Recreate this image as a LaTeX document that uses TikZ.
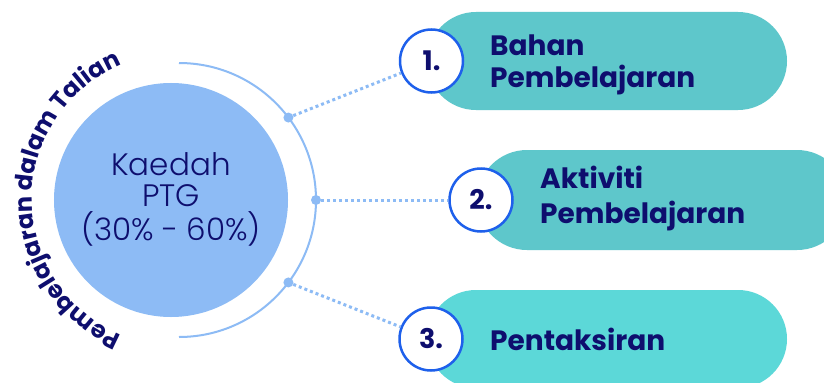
\documentclass[tikz,border=0pt]{standalone}
\usepackage{fontspec}
\setmainfont{Poppins}
\newfontfamily\lightfont{Poppins Light}
\usetikzlibrary{decorations.text,calc}
\definecolor{navy}{HTML}{0E0E6E}
\definecolor{lblue}{HTML}{8DBBF5}
\definecolor{teal1}{HTML}{5EC7CB}
\definecolor{teal3}{HTML}{5CD8D8}
\definecolor{ringblue}{HTML}{1E60EB}
\begin{document}
\begin{tikzpicture}[x=1bp,y=1bp,
 pill/.style={rounded corners=49bp, minimum height=98bp, inner sep=0},
 numc/.style={circle, draw=ringblue, line width=2.5bp, fill=white, minimum size=63bp, inner sep=0, text=navy, font=\fontsize{27bp}{27bp}\selectfont\bfseries},
 lbl/.style={anchor=base west, inner sep=0, text=navy, font=\fontsize{28bp}{32bp}\selectfont\bfseries},
 conn/.style={draw=lblue, line width=3bp, dash pattern=on 3bp off 3bp},
 dotn/.style={circle, fill=lblue, minimum size=10bp, inner sep=0},
 ktxt/.style={anchor=base, inner sep=0, text=navy, font=\lightfont\fontsize{31bp}{31bp}\selectfont}]
\clip (0,0) rectangle (824,382);
\fill[white] (0,0) rectangle (824,382);
% pills
\node[pill, fill=teal1, minimum width=360bp] (p1) at (607,321) {};
\node[pill, fill=teal1, minimum width=370bp, minimum height=100bp, rounded corners=50bp] (p2) at (662,182) {};
\node[pill, fill=teal3, minimum width=360bp] (p3) at (607,43) {};
% main circle and arc
\node[circle, fill=lblue, minimum size=234bp, inner sep=0] (main) at (171,182) {};
\coordinate (arcc) at (179,182);
\draw[lblue, line width=2bp] ([shift={(90:137)}]arcc) arc[start angle=90, end angle=-90, radius=137];
\node[dotn] (d1) at ([shift={(37:137)}]arcc) {};
\node[dotn] (d2) at ([shift={(0:137)}]arcc) {};
\node[dotn] (d3) at ([shift={(-37:137)}]arcc) {};
% number circles
\node[numc] (n1) at (431.5,321) {1.};
\node[numc] (n2) at (481,182) {2.};
\node[numc] (n3) at (431,43) {3.};
% connectors
\draw[conn] (d1) -- (n1);
\draw[conn] (d2) -- (n2);
\draw[conn] (d3) -- (n3);
% labels
\node[lbl] (t1a) at (490,327) {Bahan};
\node[lbl] (t1b) at (490,295) {Pembelajaran};
\node[lbl] (t2a) at (540,194) {Aktiviti};
\node[lbl] (t2b) at (540,159) {Pembelajaran};
\node[lbl] (t3) at (490,32) {Pentaksiran};
% centre text
\node[ktxt] (k1) at (171,207) {Kaedah};
\node[ktxt] (k2) at (171,176) {PTG};
\node[ktxt] (k3) at (171,142) {(30\% - 60\%)};
% curved text
\path[decorate, decoration={text along path, text align=center,
  text={|\bfseries\color{navy}\fontsize{24bp}{24bp}\selectfont|Pembelajaran dalam Talian}}]
  ([shift={(250:147)}]arcc) arc[start angle=250, end angle=110, radius=147];
\end{tikzpicture}
\end{document}
